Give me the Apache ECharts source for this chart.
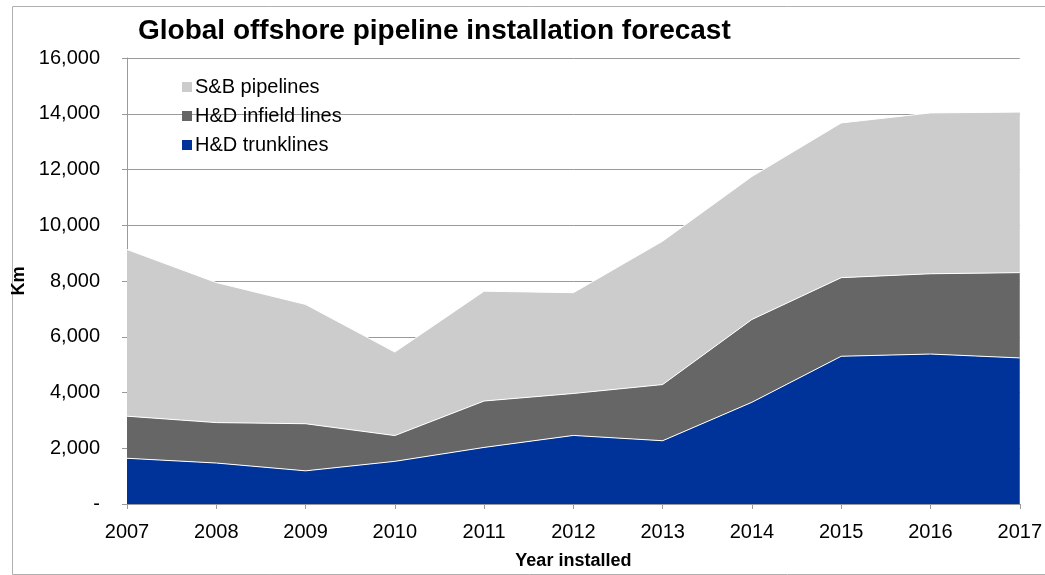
<!DOCTYPE html>
<html>
<head>
<meta charset="utf-8">
<script src="https://cdn.jsdelivr.net/npm/echarts@6/dist/echarts.min.js"></script>
<style>
  html, body { margin: 0; padding: 0; background: #fff; }
  #chart { width: 1045px; height: 575px; }
</style>
</head>
<body>
<div id="chart"></div>
<script>
const years = ['2007', '2008', '2009', '2010', '2011', '2012', '2013', '2014', '2015', '2016', '2017'];
const trunklines = [1640, 1470, 1190, 1530, 2030, 2460, 2270, 3650, 5300, 5380, 5240];
const infieldLines = [1510, 1450, 1690, 925, 1665, 1505, 2015, 2970, 2820, 2880, 3060];
const sbPipelines = [5980, 5025, 4280, 2995, 3940, 3615, 5145, 5130, 5550, 5770, 5760];
const yTicks = { min: 0, max: 16000, interval: 2000 };

const font = '"Liberation Sans", Arial, sans-serif';
const chart = echarts.init(document.getElementById('chart'));

function areaSeries(name, data, color) {
  return {
    name,
    type: 'line',
    stack: 'total',
    data,
    symbol: 'none',
    lineStyle: { color: '#ffffff', width: 1 },
    itemStyle: { color },
    areaStyle: { color, opacity: 1 }
  };
}

chart.setOption({
  animation: false,
  textStyle: { fontFamily: font },
  graphic: [{
    type: 'rect',
    left: 10, top: 4,
    shape: { width: 1100, height: 568 },
    style: { fill: 'none', stroke: '#b0b0b0', lineWidth: 1 },
    silent: true
  }],
  title: {
    text: 'Global offshore pipeline installation forecast',
    left: 133,
    top: 12,
    textStyle: { fontFamily: font, fontSize: 28, fontWeight: 'bold', color: '#000' }
  },
  legend: {
    orient: 'vertical',
    left: 177,
    top: 72,
    itemGap: 9,
    itemWidth: 10,
    itemHeight: 10,
    icon: 'rect',
    data: ['S&B pipelines', 'H&D infield lines', 'H&D trunklines'],
    textStyle: { fontFamily: font, fontSize: 20, color: '#000', padding: [0, 0, 0, -2] }
  },
  grid: { left: 127, right: 22, top: 58, bottom: 68 },
  xAxis: {
    type: 'category',
    data: years,
    boundaryGap: false,
    name: 'Year installed',
    nameLocation: 'middle',
    nameGap: 48,
    nameTextStyle: { fontFamily: font, fontSize: 18, fontWeight: 'bold', color: '#000' },
    axisLine: { lineStyle: { color: '#9a9a9a' } },
    axisTick: { alignWithLabel: true, length: 5, lineStyle: { color: '#9a9a9a' } },
    axisLabel: { fontFamily: font, fontSize: 20, color: '#000', margin: 18 }
  },
  yAxis: {
    type: 'value',
    min: yTicks.min,
    max: yTicks.max,
    interval: yTicks.interval,
    name: 'Km',
    nameLocation: 'middle',
    nameGap: 92,
    nameRotate: 90,
    nameTextStyle: { fontFamily: font, fontSize: 18, fontWeight: 'bold', color: '#000' },
    axisLine: { show: true, lineStyle: { color: '#9a9a9a' } },
    axisTick: { show: true, length: 5, lineStyle: { color: '#9a9a9a' } },
    axisLabel: {
      fontFamily: font, fontSize: 20, color: '#000', margin: 27,
      formatter: v => v === 0 ? '-' : v.toLocaleString('en-US')
    },
    splitLine: { lineStyle: { color: '#9a9a9a', width: 1 } }
  },
  series: [
    areaSeries('H&D trunklines', trunklines, '#003399'),
    areaSeries('H&D infield lines', infieldLines, '#666666'),
    areaSeries('S&B pipelines', sbPipelines, '#cccccc')
  ]
});
</script>
</body>
</html>
